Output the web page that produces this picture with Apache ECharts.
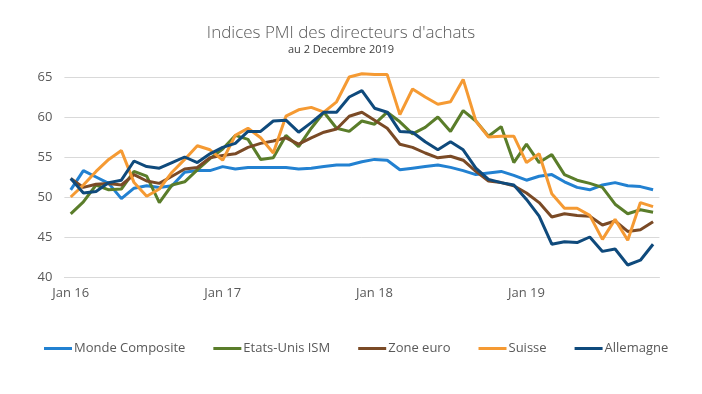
<!DOCTYPE html>
<html>
<head>
<meta charset="utf-8">
<script src="https://cdn.jsdelivr.net/npm/echarts@6/dist/echarts.min.js"></script>
<style>
html,body{margin:0;padding:0;background:#fff;}
#c{width:702px;height:394px;}
</style>
</head>
<body>
<div id="c"></div>
<script>
const categories = [
 'Jan 16','Fév 16','Mar 16','Avr 16','Mai 16','Jun 16','Jul 16','Aoû 16','Sep 16','Oct 16','Nov 16','Déc 16',
 'Jan 17','Fév 17','Mar 17','Avr 17','Mai 17','Jun 17','Jul 17','Aoû 17','Sep 17','Oct 17','Nov 17','Déc 17',
 'Jan 18','Fév 18','Mar 18','Avr 18','Mai 18','Jun 18','Jul 18','Aoû 18','Sep 18','Oct 18','Nov 18','Déc 18',
 'Jan 19','Fév 19','Mar 19','Avr 19','Mai 19','Jun 19','Jul 19','Aoû 19','Sep 19','Oct 19','Nov 19'
];
const monde = [
 50.9, 53.3, 52.5, 51.7, 49.8, 51.1, 51.4, 51.2, 51.4, 53.1, 53.3, 53.3,
 53.8, 53.5, 53.7, 53.7, 53.7, 53.7, 53.5, 53.6, 53.8, 54.0, 54.0, 54.4,
 54.7, 54.6, 53.4, 53.6, 53.8, 54.0, 53.7, 53.3, 52.8, 53.0, 53.2, 52.7,
 52.1, 52.6, 52.8, 51.9, 51.2, 50.9, 51.5, 51.8, 51.4, 51.3, 50.9
];
const etatsUnis = [
 47.9, 49.4, 51.5, 50.9, 51.0, 53.2, 52.6, 49.3, 51.5, 51.9, 53.4, 54.8,
 56.0, 57.7, 57.2, 54.7, 54.9, 57.7, 56.3, 58.6, 60.6, 58.6, 58.2, 59.5,
 59.1, 60.6, 59.4, 57.9, 58.7, 60.0, 58.2, 60.8, 59.5, 57.6, 58.8, 54.3,
 56.6, 54.3, 55.3, 52.8, 52.1, 51.7, 51.2, 49.1, 47.9, 48.4, 48.1
];
const zoneEuro = [
 52.3, 51.2, 51.6, 51.7, 51.5, 52.8, 52.0, 51.7, 52.6, 53.5, 53.7, 54.9,
 55.2, 55.4, 56.2, 56.7, 57.0, 57.4, 56.6, 57.4, 58.1, 58.5, 60.1, 60.6,
 59.6, 58.6, 56.6, 56.2, 55.5, 54.9, 55.1, 54.6, 53.2, 52.0, 51.8, 51.4,
 50.5, 49.3, 47.5, 47.9, 47.7, 47.6, 46.5, 47.0, 45.7, 45.9, 46.9
];
const suisse = [
 50.0, 51.5, 53.2, 54.7, 55.8, 51.8, 50.1, 51.0, 53.1, 54.7, 56.4, 55.9,
 54.6, 57.7, 58.6, 57.4, 55.5, 60.1, 60.9, 61.2, 60.6, 61.9, 65.0, 65.4,
 65.3, 65.3, 60.3, 63.5, 62.5, 61.6, 61.9, 64.7, 59.5, 57.5, 57.6, 57.6,
 54.3, 55.4, 50.4, 48.6, 48.6, 47.7, 44.7, 47.2, 44.6, 49.3, 48.8
];
const allemagne = [
 52.3, 50.5, 50.7, 51.8, 52.1, 54.5, 53.8, 53.6, 54.3, 55.0, 54.3, 55.4,
 56.2, 56.7, 58.2, 58.2, 59.5, 59.6, 58.1, 59.3, 60.6, 60.6, 62.5, 63.3,
 61.1, 60.6, 58.2, 58.1, 56.9, 55.9, 56.9, 55.9, 53.6, 52.2, 51.8, 51.5,
 49.7, 47.6, 44.1, 44.4, 44.3, 45.0, 43.2, 43.5, 41.5, 42.1, 44.1
];
const seriesNames = ['Monde Composite','Etats-Unis ISM','Zone euro','Suisse','Allemagne'];
const seriesColors = ['#2281d1','#5a7d2a','#7a4a26','#f59a33','#0f4a7c'];
const seriesData = [monde, etatsUnis, zoneEuro, suisse, allemagne];

const font = '"Open Sans", "Noto Sans", sans-serif';
const chart = echarts.init(document.getElementById('c'), null, {renderer:'canvas'});
chart.setOption({
  animation: false,
  backgroundColor: '#ffffff',
  title: {
    text: "Indices PMI des directeurs d'achats",
    subtext: 'au 2 Decembre 2019',
    left: 336,
    textAlign: 'center',
    top: 20,
    itemGap: 2,
    textStyle: {fontFamily: font, fontSize: 17, fontWeight: 300, color: '#595959'},
    subtextStyle: {fontFamily: font, fontSize: 11, color: '#404040'}
  },
  legend: {
    data: seriesNames,
    bottom: 34,
    left: 39,
    icon: 'rect',
    itemWidth: 28,
    itemHeight: 3,
    itemGap: 28,
    textStyle: {fontFamily: font, fontSize: 13, color: '#595959', padding: [0,0,0,-3]}
  },
  grid: {left: 64.4, right: 42.6, top: 77, bottom: 117},
  xAxis: {
    type: 'category',
    data: categories,
    boundaryGap: true,
    axisTick: {show: false},
    axisLine: {lineStyle: {color: '#d9d9d9', width: 1}},
    axisLabel: {interval: 11, color: '#595959', fontFamily: font, fontSize: 13, margin: 10}
  },
  yAxis: {
    type: 'value',
    min: 40, max: 65, interval: 5,
    axisLine: {show: false},
    axisTick: {show: false},
    splitLine: {lineStyle: {color: '#d9d9d9', width: 1}},
    axisLabel: {color: '#595959', fontFamily: font, fontSize: 13, margin: 12}
  },
  series: seriesNames.map((n, i) => ({
    name: n,
    type: 'line',
    data: seriesData[i],
    showSymbol: false,
    symbol: 'none',
    clip: false,
    color: seriesColors[i],
    lineStyle: {width: 3, color: seriesColors[i]}
  }))
});
</script>
</body>
</html>
